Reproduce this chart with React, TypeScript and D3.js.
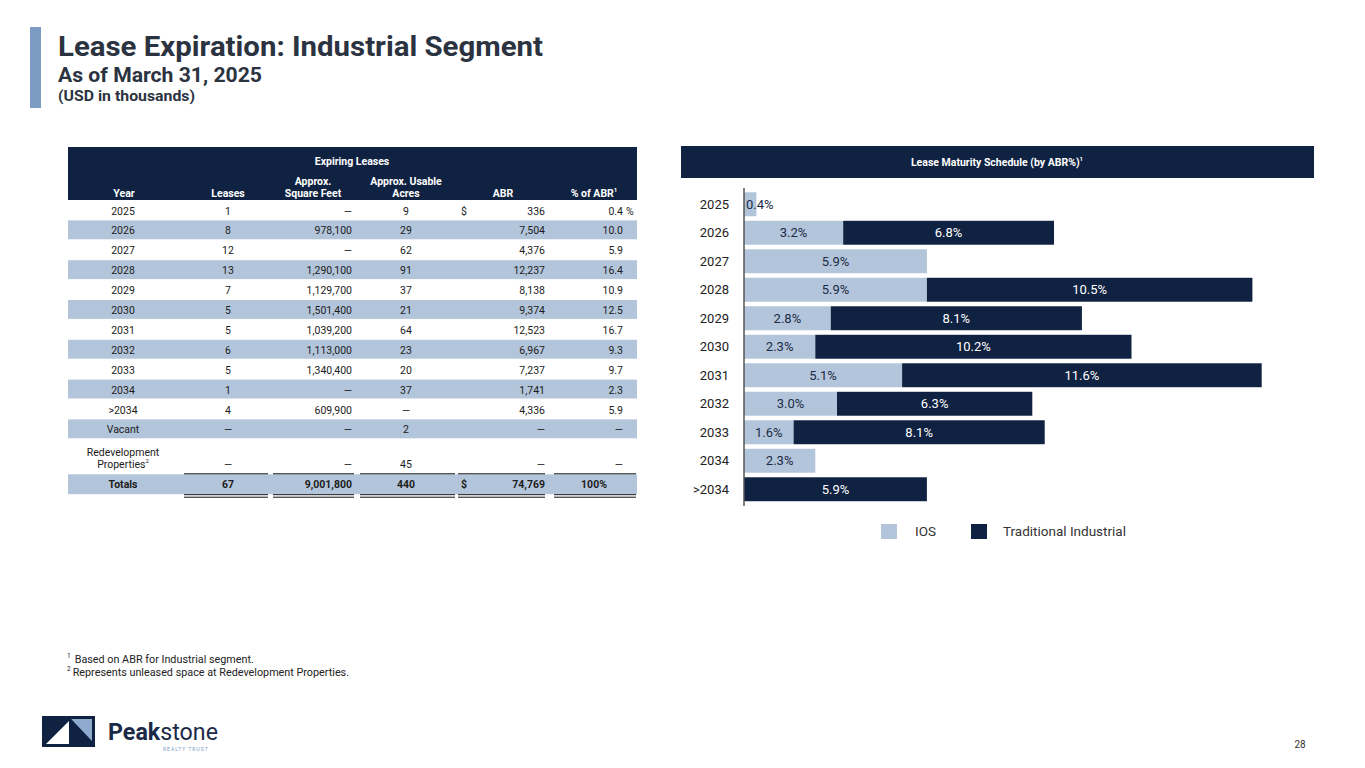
import * as d3 from 'd3';

// ---- table data ----
const tableYears = ['2025', '2026', '2027', '2028', '2029', '2030', '2031', '2032', '2033', '2034', '>2034', 'Vacant'];
const tableLeases = ['1', '8', '12', '13', '7', '5', '5', '6', '5', '1', '4', '—'];
const tableSqft = ['—', '978,100', '—', '1,290,100', '1,129,700', '1,501,400', '1,039,200', '1,113,000', '1,340,400', '—', '609,900', '—'];
const tableAcres = ['9', '29', '62', '91', '37', '21', '64', '23', '20', '37', '—', '2'];
const tableAbr = ['336', '7,504', '4,376', '12,237', '8,138', '9,374', '12,523', '6,967', '7,237', '1,741', '4,336', '—'];
const tablePct = ['0.4', '10.0', '5.9', '16.4', '10.9', '12.5', '16.7', '9.3', '9.7', '2.3', '5.9', '—'];
const redevRow = { leases: '—', sqft: '—', acres: '45', abr: '—', pct: '—' };
const totalsRow = { leases: '67', sqft: '9,001,800', acres: '440', abr: '74,769', pct: '100%' };

// ---- chart data (% of ABR) ----
const chartYears = ['2025', '2026', '2027', '2028', '2029', '2030', '2031', '2032', '2033', '2034', '>2034'];
const iosValues = [0.4, 3.2, 5.9, 5.9, 2.8, 2.3, 5.1, 3.0, 1.6, 2.3, 0];
const tradValues = [0, 6.8, 0, 10.5, 8.1, 10.2, 11.6, 6.3, 8.1, 0, 5.9];
const seriesNames = ['IOS', 'Traditional Industrial'];

const NAVY = '#0f2241';
const LIGHT = '#b3c5da';
const FONT = 'Roboto, "Noto Sans", sans-serif';

export default function App() {
  // table layout
  const rowTop = 200.5;
  const rowH = 19.9;
  const col = { year: 123, leases: 228, sqft: 352, acres: 406, dollar: 461, abr: 545, pct: 623 };
  const textColor = '#1c1c1c';

  const rows = tableYears.map((y, i) => ({
    year: y, leases: tableLeases[i], sqft: tableSqft[i], acres: tableAcres[i], abr: tableAbr[i], pct: tablePct[i],
  }));
  const redevTop = rowTop + rows.length * rowH;
  const redevH = 35;
  const totTop = redevTop + redevH;

  // chart scales
  const y = d3.scaleBand<string>().domain(chartYears).range([190, 503.5]).paddingInner(0.16).paddingOuter(0.08);
  const x = d3.scaleLinear().domain([0, 17]).range([744, 1271]);
  const chartData = chartYears.map((yr, i) => ({ year: yr, ios: iosValues[i], trad: tradValues[i] }));
  const stack = d3.stack<{ year: string; ios: number; trad: number }>().keys(['ios', 'trad'])(chartData);
  const colors = [LIGHT, NAVY];
  const labelColors = ['#1b2b45', '#ffffff'];

  const segLines = [
    [184, 268], [273, 354], [360, 455], [458, 545], [554, 636],
  ];

  return (
    <svg width={1365} height={768} style={{ position: 'absolute', left: 0, top: 0, background: '#fff' }} fontFamily={FONT}>
      {/* title block */}
      <rect x={30} y={27} width={11} height={81} fill="#7d9cc4" />
      <text x={58} y={56} fontSize={28} fontWeight={700} fill="#2b3341" textLength={485} lengthAdjust="spacingAndGlyphs">Lease Expiration: Industrial Segment</text>
      <text x={58} y={82} fontSize={20} fontWeight={700} fill="#2b3341" textLength={204} lengthAdjust="spacingAndGlyphs">As of March 31, 2025</text>
      <text x={58} y={101} fontSize={15} fontWeight={700} fill="#2b3341" textLength={137} lengthAdjust="spacingAndGlyphs">(USD in thousands)</text>

      {/* table header */}
      <rect x={68} y={147} width={569} height={53} fill={NAVY} />
      <g fill="#fff" fontSize={10.5} fontWeight={700} textAnchor="middle">
        <text x={352} y={165}>Expiring Leases</text>
        <text x={124} y={197}>Year</text>
        <text x={228} y={197}>Leases</text>
        <text x={313} y={185}>Approx.</text>
        <text x={313} y={197}>Square Feet</text>
        <text x={406} y={185}>Approx. Usable</text>
        <text x={406} y={197}>Acres</text>
        <text x={503} y={197}>ABR</text>
        <text x={594} y={197}>% of ABR<tspan fontSize={6} dy={-5}>1</tspan></text>
      </g>

      {/* table rows */}
      <g fontSize={10.5} fill={textColor}>
        {rows.map((r, i) => {
          const top = rowTop + i * rowH;
          const yb = top + 14;
          return (
            <g key={r.year}>
              {i % 2 === 1 && <rect x={68} y={top} width={569} height={rowH - 1} fill={LIGHT} />}
              <text x={col.year} y={yb} textAnchor="middle">{r.year}</text>
              <text x={col.leases} y={yb} textAnchor="middle">{r.leases}</text>
              <text x={col.sqft} y={yb} textAnchor="end">{r.sqft}</text>
              <text x={col.acres} y={yb} textAnchor="middle">{r.acres}</text>
              {i === 0 && <text x={col.dollar} y={yb}>$</text>}
              <text x={col.abr} y={yb} textAnchor="end">{r.abr}</text>
              <text x={col.pct} y={yb} textAnchor="end">{r.pct}</text>
              {i === 0 && <text x={col.pct + 3} y={yb}>%</text>}
            </g>
          );
        })}
        {/* redevelopment */}
        <text x={col.year} y={redevTop + 17} textAnchor="middle">Redevelopment</text>
        <text x={col.year} y={redevTop + 29} textAnchor="middle">Properties<tspan fontSize={6} dy={-5}>2</tspan></text>
        <text x={col.leases} y={redevTop + 29} textAnchor="middle">{redevRow.leases}</text>
        <text x={col.sqft} y={redevTop + 29} textAnchor="end">{redevRow.sqft}</text>
        <text x={col.acres} y={redevTop + 29} textAnchor="middle">{redevRow.acres}</text>
        <text x={col.abr} y={redevTop + 29} textAnchor="end">{redevRow.abr}</text>
        <text x={col.pct} y={redevTop + 29} textAnchor="end">{redevRow.pct}</text>
        {/* totals */}
        <rect x={68} y={totTop} width={569} height={rowH} fill={LIGHT} />
        <g fontWeight={700}>
          <text x={col.year} y={totTop + 14} textAnchor="middle">Totals</text>
          <text x={col.leases} y={totTop + 14} textAnchor="middle">{totalsRow.leases}</text>
          <text x={col.sqft} y={totTop + 14} textAnchor="end">{totalsRow.sqft}</text>
          <text x={col.acres} y={totTop + 14} textAnchor="middle">{totalsRow.acres}</text>
          <text x={col.dollar} y={totTop + 14}>$</text>
          <text x={col.abr} y={totTop + 14} textAnchor="end">{totalsRow.abr}</text>
          <text x={594} y={totTop + 14} textAnchor="middle">{totalsRow.pct}</text>
        </g>
        {segLines.map(([a, b]) => (
          <g key={a} stroke="#111" strokeWidth={1}>
            <line x1={a} x2={b} y1={totTop - 0.5} y2={totTop - 0.5} />
            <line x1={a} x2={b} y1={totTop + rowH + 0.5} y2={totTop + rowH + 0.5} />
            <line x1={a} x2={b} y1={totTop + rowH + 3} y2={totTop + rowH + 3} />
          </g>
        ))}
      </g>

      {/* chart header */}
      <rect x={681} y={146} width={633} height={32} fill={NAVY} />
      <text x={997} y={166} fontSize={10.5} fontWeight={700} fill="#fff" textAnchor="middle">
        Lease Maturity Schedule (by ABR%)<tspan fontSize={6} dy={-5}>1</tspan>
      </text>

      {/* bars */}
      {stack.map((s, si) => (
        <g key={s.key}>
          {s.map((d) => {
            const v = d[1] - d[0];
            if (v <= 0) return null;
            const x0 = x(d[0]);
            const x1 = x(d[1]);
            const yy = y(d.data.year)!;
            const bw = y.bandwidth();
            const label = `${v.toFixed(1)}%`;
            const narrow = x1 - x0 < 34;
            return (
              <g key={d.data.year}>
                <rect x={x0} y={yy} width={x1 - x0} height={bw} fill={colors[si]} />
                <text
                  x={narrow ? x0 + 2 : (x0 + x1) / 2}
                  y={yy + bw / 2 + 4.5}
                  textAnchor={narrow ? 'start' : 'middle'}
                  fontSize={13}
                  fill={labelColors[si]}
                >{label}</text>
              </g>
            );
          })}
        </g>
      ))}
      <line x1={744} x2={744} y1={188} y2={506} stroke="#555" strokeWidth={1.5} />
      <g fontSize={13} fill="#222" textAnchor="end">
        {chartYears.map((yr) => (
          <text key={yr} x={729} y={y(yr)! + y.bandwidth() / 2 + 4.5}>{yr}</text>
        ))}
      </g>

      {/* legend */}
      <rect x={881} y={524} width={16} height={15} fill={LIGHT} />
      <text x={915} y={536} fontSize={13.5} fill="#333">{seriesNames[0]}</text>
      <rect x={971} y={524} width={16} height={15} fill={NAVY} />
      <text x={1003} y={536} fontSize={13.5} fill="#333">{seriesNames[1]}</text>

      {/* footnotes */}
      <g fontSize={10.8} fill="#222">
        <text x={67} y={663}><tspan fontSize={6.5} dy={-5}>1</tspan><tspan dx={4} dy={5}>Based on ABR for Industrial segment.</tspan></text>
        <text x={67} y={676}><tspan fontSize={6.5} dy={-5}>2</tspan><tspan dx={2} dy={5}>Represents unleased space at Redevelopment Properties.</tspan></text>
      </g>

      {/* logo */}
      <rect x={42} y={716} width={53} height={31} fill={NAVY} />
      <polygon points="71,719 92,719 92,741" fill="#8fa9cc" />
      <polygon points="46,744 69,721 69,744" fill="#fff" />
      <polygon points="69,721 71,719 92,744 88,744" fill={NAVY} />
      <text x={108} y={740} fontSize={24} fill="#1b2a47" textLength={110} lengthAdjust="spacingAndGlyphs">
        <tspan fontWeight={700}>Peak</tspan><tspan>stone</tspan>
      </text>
      <text x={163} y={751} fontSize={5} fill="#7d9cc4" letterSpacing={1}>REALTY TRUST</text>

      <text x={1300} y={748} fontSize={10} fill="#333" textAnchor="middle">28</text>
    </svg>
  );
}
